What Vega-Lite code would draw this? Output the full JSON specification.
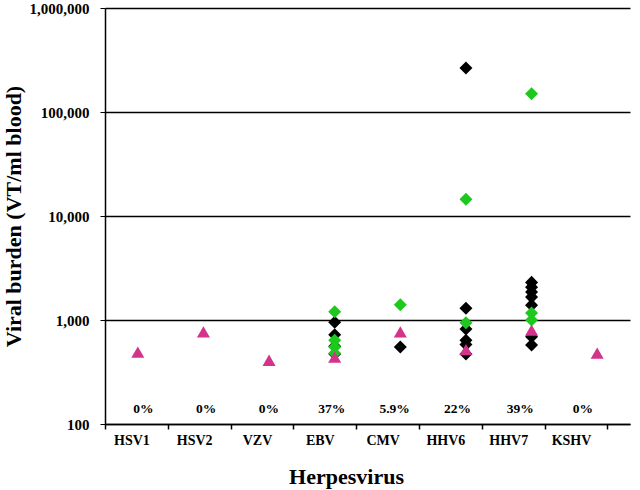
{
  "$schema": "https://vega.github.io/schema/vega-lite/v6.json",
  "autosize": {"type": "none"},
  "padding": {"left": 105, "top": 8, "right": 10, "bottom": 66},
  "width": 525,
  "height": 416,
  "background": "white",
  "config": {"view": {"stroke": null}},
  "datasets": {
    "pct": [
      {"virus": "HSV1", "pct": "0%"},
      {"virus": "HSV2", "pct": "0%"},
      {"virus": "VZV", "pct": "0%"},
      {"virus": "EBV", "pct": "37%"},
      {"virus": "CMV", "pct": "5.9%"},
      {"virus": "HHV6", "pct": "22%"},
      {"virus": "HHV7", "pct": "39%"},
      {"virus": "KSHV", "pct": "0%"}
    ],
    "pts": [
      {"virus": "EBV", "group": "Series 1", "value": 950},
      {"virus": "EBV", "group": "Series 1", "value": 720},
      {"virus": "EBV", "group": "Series 1", "value": 560},
      {"virus": "EBV", "group": "Series 1", "value": 470},
      {"virus": "CMV", "group": "Series 1", "value": 550},
      {"virus": "HHV6", "group": "Series 1", "value": 265000},
      {"virus": "HHV6", "group": "Series 1", "value": 1300},
      {"virus": "HHV6", "group": "Series 1", "value": 820},
      {"virus": "HHV6", "group": "Series 1", "value": 640},
      {"virus": "HHV6", "group": "Series 1", "value": 580},
      {"virus": "HHV6", "group": "Series 1", "value": 470},
      {"virus": "HHV7", "group": "Series 1", "value": 2300},
      {"virus": "HHV7", "group": "Series 1", "value": 2070},
      {"virus": "HHV7", "group": "Series 1", "value": 1860},
      {"virus": "HHV7", "group": "Series 1", "value": 1660},
      {"virus": "HHV7", "group": "Series 1", "value": 1390},
      {"virus": "HHV7", "group": "Series 1", "value": 690},
      {"virus": "HHV7", "group": "Series 1", "value": 575},
      {"virus": "EBV", "group": "Series 2", "value": 1200},
      {"virus": "EBV", "group": "Series 2", "value": 640},
      {"virus": "EBV", "group": "Series 2", "value": 550},
      {"virus": "EBV", "group": "Series 2", "value": 480},
      {"virus": "CMV", "group": "Series 2", "value": 1400},
      {"virus": "HHV6", "group": "Series 2", "value": 14500},
      {"virus": "HHV6", "group": "Series 2", "value": 940},
      {"virus": "HHV7", "group": "Series 2", "value": 150000},
      {"virus": "HHV7", "group": "Series 2", "value": 1170},
      {"virus": "HHV7", "group": "Series 2", "value": 1000},
      {"virus": "HSV1", "group": "Series 3", "value": 490},
      {"virus": "HSV2", "group": "Series 3", "value": 770},
      {"virus": "VZV", "group": "Series 3", "value": 410},
      {"virus": "EBV", "group": "Series 3", "value": 440},
      {"virus": "CMV", "group": "Series 3", "value": 770},
      {"virus": "HHV6", "group": "Series 3", "value": 520},
      {"virus": "HHV7", "group": "Series 3", "value": 800},
      {"virus": "KSHV", "group": "Series 3", "value": 480}
    ]
  },
  "layer": [
    {
      "data": {"name": "pct"},
      "mark": {"type": "text", "font": "Liberation Serif", "fontWeight": "bold", "fontSize": 13.5, "color": "black", "dx": 7, "baseline": "middle"},
      "encoding": {
        "x": {
          "field": "virus", "type": "nominal", "sort": null,
          "scale": {"type": "band", "paddingInner": 0, "paddingOuter": 0.18, "align": 0},
          "axis": {
            "title": "Herpesvirus", "labelAngle": 0, "tickBand": "extent",
            "domainColor": "black", "domainWidth": 1.5, "tickColor": "black", "tickWidth": 1.5, "tickSize": 5,
            "labelFont": "Liberation Serif", "labelFontWeight": "bold", "labelFontSize": 14, "labelColor": "black",
            "labelPadding": 4, "labelOffset": -5,
            "titleFont": "Liberation Serif", "titleFontWeight": "bold", "titleFontSize": 22, "titleColor": "black",
            "titleX": 241, "titleY": 59, "titleBaseline": "alphabetic"
          }
        },
        "y": {"datum": 140, "type": "quantitative", "scale": {"type": "log", "domain": [100, 1000000], "nice": false}},
        "text": {"field": "pct"}
      }
    },
    {
      "data": {"name": "pts"},
      "mark": {"type": "point", "filled": true, "opacity": 1, "size": 170, "strokeWidth": 0},
      "encoding": {
        "x": {
          "field": "virus", "type": "nominal",
          "sort": ["HSV1", "HSV2", "VZV", "EBV", "CMV", "HHV6", "HHV7", "KSHV"],
          "scale": {"type": "point", "padding": 0.5, "domain": ["HSV1", "HSV2", "VZV", "EBV", "CMV", "HHV6", "HHV7", "KSHV"]},
          "axis": null
        },
        "y": {
          "field": "value", "type": "quantitative",
          "scale": {"type": "log", "domain": [100, 1000000], "nice": false},
          "axis": {
            "title": "Viral burden (VT/ml blood)",
            "values": [100, 1000, 10000, 100000, 1000000], "format": ",",
            "grid": true, "gridColor": "black", "gridWidth": 1.5, "gridOpacity": 1,
            "domainColor": "black", "domainWidth": 1.5, "tickColor": "black", "tickSize": 5,
            "labelFont": "Liberation Serif", "labelFontWeight": "bold", "labelFontSize": 15, "labelColor": "black",
            "labelPadding": 11,
            "titleFont": "Liberation Serif", "titleFontWeight": "bold", "titleFontSize": 22, "titleColor": "black",
            "titleX": -80, "titleY": 208
          }
        },
        "color": {"field": "group", "type": "nominal", "scale": {"domain": ["Series 1", "Series 2", "Series 3"], "range": ["#000000", "#1ec81e", "#d4338c"]}, "legend": null},
        "shape": {"field": "group", "type": "nominal", "scale": {"domain": ["Series 1", "Series 2", "Series 3"], "range": ["diamond", "diamond", "triangle-up"]}, "legend": null}
      }
    }
  ],
  "resolve": {"scale": {"x": "independent"}}
}
